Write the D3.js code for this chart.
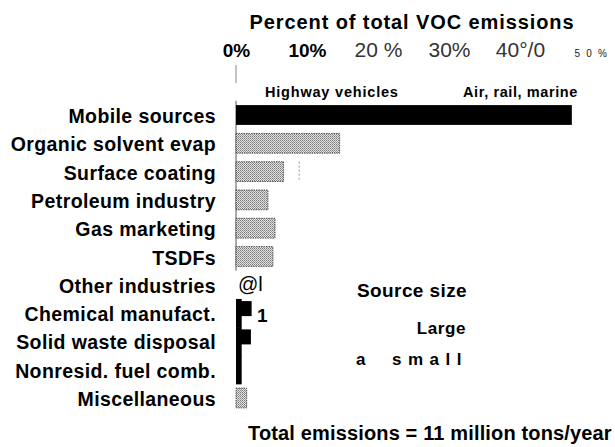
<!DOCTYPE html>
<html>
<head>
<meta charset="utf-8">
<script src="https://cdn.jsdelivr.net/npm/d3@7/dist/d3.min.js"></script>
<style>
  html, body { margin: 0; padding: 0; background: #fff; }
  svg { display: block; }
  text { font-family: "Liberation Sans", Arial, sans-serif; }
</style>
</head>
<body>
<svg id="chart" width="615" height="447"></svg>
<script>
// ---- data ----
const categories = [
  "Mobile sources", "Organic solvent evap", "Surface coating",
  "Petroleum industry", "Gas marketing", "TSDFs", "Other industries",
  "Chemical manufact.", "Solid waste disposal", "Nonresid. fuel comb.",
  "Miscellaneous"
];
// black (large source) bars, percent
const largeValues = [47.3, 0, 0, 0, 0, 0, 0, 2.2, 2.1, 0, 0];
// thin black strip under the small categories, percent
const baseValues  = [0, 0, 0, 0, 0, 0, 0, 0.8, 0.8, 0.8, 0];
// stippled (small source) bars, percent
const smallValues = [0, 14.6, 6.7, 4.5, 5.5, 5.2, 0, 0, 0, 0, 1.5];
const tickValues = [0, 10, 20, 30, 40, 50];
const tickLabels = ["0%", "10%", "20 %", "30%", "40°/0", "5 0 %"];
const subHeads = ["Highway  vehicles", "Air,  rail,  marine"];

const svg = d3.select("#chart");

const x = d3.scaleLinear().domain([0, 50]).range([236, 591]);
const y = d3.scaleBand().domain(categories).range([100.85, 412.15])
  .paddingInner(0.3).paddingOuter(0.15);

// stipple pattern
const defs = svg.append("defs");
const pat = defs.append("pattern").attr("id", "stip")
  .attr("width", 2).attr("height", 2).attr("patternUnits", "userSpaceOnUse");
pat.append("rect").attr("width", 2).attr("height", 2).attr("fill", "#e4e4e4");
pat.append("rect").attr("x", 0).attr("y", 0).attr("width", 1).attr("height", 1).attr("fill", "#777");
pat.append("rect").attr("x", 1).attr("y", 1).attr("width", 1).attr("height", 1).attr("fill", "#999");

// title
svg.append("text").attr("x", 412).attr("y", 29)
  .attr("text-anchor", "middle").attr("font-weight", "bold")
  .attr("font-size", 20).attr("letter-spacing", 0.9)
  .text("Percent of total VOC emissions");

// top axis
const axis = d3.axisTop(x).tickValues(tickValues)
  .tickFormat((d, i) => tickLabels[i]).tickSize(0).tickPadding(0);
const ag = svg.append("g").attr("transform", "translate(0,57)").call(axis);
ag.select(".domain").remove();
ag.selectAll(".tick text").attr("fill", "#000").attr("dy", "0")
  .each(function(d, i) {
    const t = d3.select(this);
    if (i < 2) {
      t.attr("font-family", "Liberation Sans").attr("font-weight", "bold").attr("font-size", 19);
    } else if (i < 5) {
      t.attr("font-family", "Liberation Sans Narrow").attr("font-weight", "normal")
       .attr("font-size", 21).attr("fill", "#333");
    } else {
      t.attr("font-family", "Liberation Sans").attr("font-size", 10)
       .attr("letter-spacing", 1.7).attr("fill", "#222");
    }
  });

// little tick below 0%
svg.append("line").attr("x1", x(0)).attr("x2", x(0)).attr("y1", 65).attr("y2", 83)
  .attr("stroke", "#888").attr("stroke-width", 1);

// sub-headings
svg.append("text").attr("x", 265).attr("y", 97).attr("font-weight", "bold")
  .attr("font-size", 14.5).attr("letter-spacing", 0.8).text(subHeads[0]);
svg.append("text").attr("x", 463).attr("y", 97).attr("font-weight", "bold")
  .attr("font-size", 14.5).attr("letter-spacing", 0.6).text(subHeads[1]);

// category labels
svg.append("g").selectAll("text").data(categories).join("text")
  .attr("x", 216).attr("y", d => y(d) + y.bandwidth() / 2 + 8)
  .attr("text-anchor", "end").attr("font-weight", "bold")
  .attr("font-size", 19.5).attr("letter-spacing", 0.4)
  .text(d => d);

// vertical axis line for the upper block
svg.append("line").attr("x1", x(0)).attr("x2", x(0))
  .attr("y1", y.range()[0]).attr("y2", y("TSDFs") + y.bandwidth() + y.step() * 0.15)
  .attr("stroke", "#555").attr("stroke-width", 1);

// stippled bars
const idx = d3.range(categories.length);
svg.append("g").selectAll("rect").data(idx.filter(i => smallValues[i] > 0)).join("rect")
  .attr("x", x(0)).attr("y", i => y(categories[i]))
  .attr("width", i => x(smallValues[i]) - x(0)).attr("height", y.bandwidth())
  .attr("fill", "url(#stip)").attr("stroke", "#333").attr("stroke-width", 0.8)
  .attr("stroke-dasharray", "1.5,1");

// thin black strip
svg.append("g").selectAll("rect").data(idx.filter(i => baseValues[i] > 0)).join("rect")
  .attr("x", x(0)).attr("y", i => y(categories[i]) - y.step() * 0.15)
  .attr("width", i => x(baseValues[i]) - x(0)).attr("height", y.step() + 0.5)
  .attr("fill", "#000");

// black bars
svg.append("g").selectAll("rect").data(idx.filter(i => largeValues[i] > 0)).join("rect")
  .attr("x", x(0))
  .attr("y", i => i === 0 ? y(categories[i]) : y(categories[i]) + y.bandwidth() / 2 - 12)
  .attr("width", i => x(largeValues[i]) - x(0))
  .attr("height", i => i === 0 ? y.bandwidth() : 15)
  .attr("fill", "#000");

// faint dashed marker beside surface coating
svg.append("line").attr("x1", x(8.9)).attr("x2", x(8.9))
  .attr("y1", y("Surface coating")).attr("y2", y("Surface coating") + y.bandwidth())
  .attr("stroke", "#999").attr("stroke-width", 1).attr("stroke-dasharray", "2,2");

// stray legend glyphs
svg.append("text").attr("x", 238).attr("y", y("Other industries") + y.bandwidth() / 2 + 6)
  .attr("font-size", 20).text("@l");
svg.append("text").attr("x", 257).attr("y", y("Chemical manufact.") + y.bandwidth() / 2 + 9)
  .attr("font-size", 19).attr("font-weight", "bold").text("1");

// legend
svg.append("text").attr("x", 357).attr("y", 297).attr("font-weight", "bold")
  .attr("font-size", 19).attr("letter-spacing", 0.4).text("Source size");
svg.append("text").attr("x", 466).attr("y", 334).attr("text-anchor", "end")
  .attr("font-weight", "bold").attr("font-size", 17).attr("letter-spacing", 0.6).text("Large");
svg.append("text").attr("x", 356).attr("y", 365).attr("font-weight", "bold")
  .attr("font-size", 17).text("a");
svg.append("text").attr("x", 392).attr("y", 365).attr("font-weight", "bold")
  .attr("font-size", 17).attr("letter-spacing", 6.5).text("small");

// footer
svg.append("text").attr("x", 248).attr("y", 440).attr("font-weight", "bold")
  .attr("font-size", 20).attr("letter-spacing", 0.15)
  .text("Total emissions = 11 million tons/year");
</script>
</body>
</html>
